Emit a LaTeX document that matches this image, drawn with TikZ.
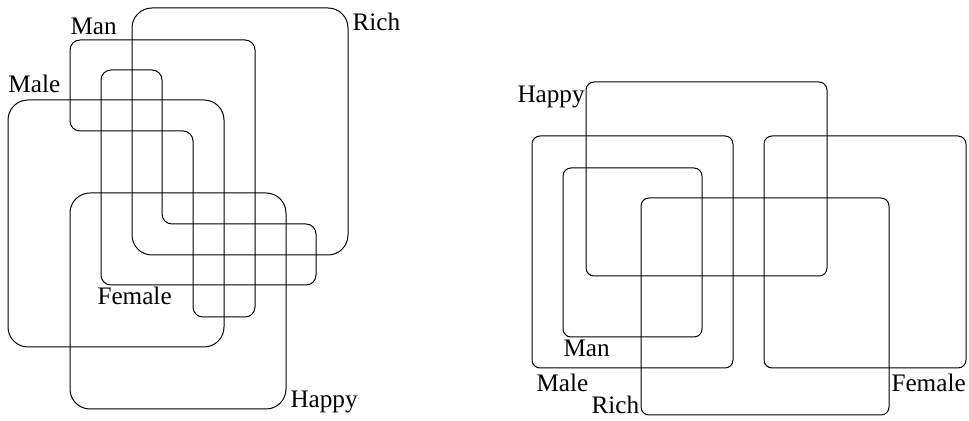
\documentclass[tikz,border=0pt]{standalone}
\usepackage{fontspec}
\setmainfont{Liberation Serif}

\begin{document}
\begin{tikzpicture}[x=0.5pt,y=-0.5pt,line width=0.5pt,
    setlabel/.style={inner sep=0pt,anchor=base west,font=\fontsize{12.6}{15}\selectfont}]
    \useasboundingbox (0,0) rectangle (969,421);

    % Left: five sets, two of them bent
    \draw[rounded corners=10pt] (132,8) rectangle (348,255);
    \draw[rounded corners=10pt] (8,100) rectangle (224,347);
    \draw[rounded corners=10pt] (70,193) rectangle (286,409);
    \draw[rounded corners=5pt] (160,40) -- (255,40) -- (255,317) -- (193,317)
        -- (193,131) -- (70,131) -- (70,40) -- cycle;
    \draw[rounded corners=5pt] (130,70) -- (162,70) -- (162,224) -- (316,224)
        -- (316,285) -- (101,285) -- (101,70) -- cycle;

    % Left labels
    \node[setlabel] (lman) at (70,35) {Man};
    \node[setlabel] (lrich) at (352,31) {Rich};
    \node[setlabel] (lmale) at (8,93) {Male};
    \node[setlabel] (lfemale) at (97,305) {Female};
    \node[setlabel] (lhappy) at (290,408) {Happy};

    % Right: plain boxes
    \draw[rounded corners=4pt] (586,82) rectangle (827,276);
    \draw[rounded corners=4pt] (532,136) rectangle (733,368);
    \draw[rounded corners=4pt] (563,168) rectangle (702,337);
    \draw[rounded corners=4pt] (641,198) rectangle (889,415);
    \draw[rounded corners=4pt] (764,136) rectangle (966,368);

    % Right labels
    \node[setlabel] (rhappy) at (517,103) {Happy};
    \node[setlabel] (rman) at (563,357) {Man};
    \node[setlabel] (rmale) at (536,392) {Male};
    \node[setlabel] (rrich) at (591,414) {Rich};
    \node[setlabel] (rfemale) at (891,392) {Female};
\end{tikzpicture}
\end{document}
